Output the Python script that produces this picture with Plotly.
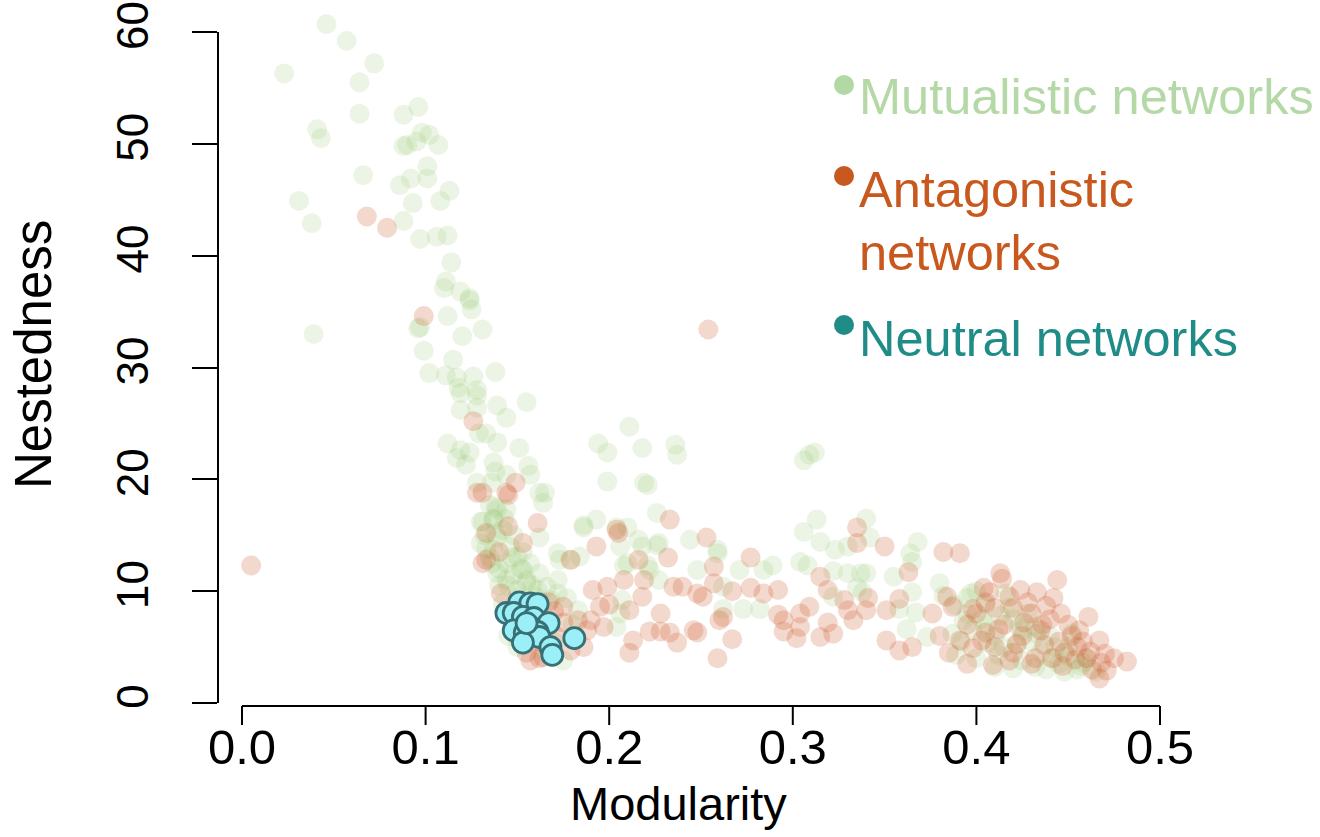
import plotly.graph_objects as go

# ---------------- data (modularity, nestedness) ----------------
mut_mod_upper = [0.046,0.057,0.072,0.023,0.064,0.064,0.088,0.096,0.041,0.043,0.098,0.102,0.088,0.090,0.095,
                 0.107,0.101,0.066,0.086,0.092,0.101,0.113,0.108,0.093,0.031,0.038,0.088,0.097,0.106,0.112,
                 0.114,0.111,0.110,0.119,0.124,0.124,0.125,0.112,0.096,0.097,0.039,0.120,0.131,0.099,0.115]
mut_nest_upper = [60.7,59.2,57.2,56.3,55.5,52.7,52.6,53.3,51.3,50.5,51.0,50.8,49.8,49.9,50.2,
                  49.9,48.0,47.2,46.3,46.9,46.9,45.8,44.9,44.7,44.9,42.9,43.1,41.5,41.7,41.8,
                  39.4,37.7,37.1,36.8,36.2,36.0,35.2,34.6,33.5,33.6,33.0,32.8,33.4,31.5,30.7]

mut_mod_branch = [0.102,0.111,0.117,0.126,0.138,0.118,0.119,0.128,0.128,0.119,0.128,0.139,0.155,0.144,0.129,
                  0.133,0.112,0.139,0.151,0.119,0.124,0.117,0.122,0.137,0.138,0.156,0.157,0.128,0.136,0.144,
                  0.138,0.144,0.137,0.131,0.165,0.164,0.130,0.162,0.172,0.184]
mut_nest_branch = [29.5,29.3,29.1,29.2,29.6,28.2,27.7,28.0,27.5,26.2,26.4,26.6,26.9,25.5,24.1,
                   24.1,23.2,23.3,22.8,22.6,22.4,21.9,21.3,21.5,20.7,21.2,20.4,19.7,19.7,20.4,
                   17.5,17.3,16.5,16.2,18.8,17.9,14.3,14.8,13.4,13.1]

mut_mod_bend = [0.135,0.139,0.137,0.130,0.139,0.146,0.137,0.150,0.144,0.157,0.139,0.153,0.162,0.144,0.155,
                0.166,0.150,0.161,0.172,0.177,0.168,0.142,0.183,0.172,0.173,0.179,0.162,0.132,0.135,0.140,
                0.142,0.147,0.148,0.152,0.155,0.158,0.160,0.163,0.145,0.150,0.140,0.136,0.133,0.138,0.143,
                0.148,0.153,0.145,0.150,0.160,0.165,0.170,0.175,0.180]
mut_nest_bend = [17.7,17.3,16.4,16.2,14.8,14.0,13.7,13.1,12.5,12.5,11.6,11.9,11.6,11.0,10.8,
                 10.4,10.1,10.1,9.8,9.4,9.2,8.9,8.3,11.0,12.8,12.8,18.8,15.0,13.0,12.0,
                 15.5,13.0,11.5,12.0,11.0,10.5,9.5,9.0,10.5,9.5,10.5,12.5,13.8,15.2,16.5,
                 15.0,13.5,6.0,5.0,7.0,4.8,5.5,3.8,7.0]

mut_mod_mid = [0.211,0.194,0.199,0.218,0.236,0.237,0.199,0.219,0.221,0.186,0.193,0.210,0.226,0.206,0.216,
               0.226,0.208,0.221,0.186,0.204,0.218,0.227,0.210,0.222,0.227,0.248,0.244,0.259,0.262,0.207,
               0.204,0.206]
mut_nest_mid = [24.7,23.2,22.4,22.8,23.1,22.2,19.8,19.7,19.5,15.7,16.4,15.7,17.0,14.0,14.6,
                14.1,12.3,12.3,15.9,15.7,14.0,14.3,12.5,11.9,11.0,11.9,14.6,13.7,10.4,9.2,
                6.8,8.0]

mut_mod_right = [0.309,0.312,0.306,0.313,0.340,0.306,0.315,0.323,0.330,0.342,0.368,0.364,0.365,0.304,0.308,
                 0.337,0.340,0.330,0.322,0.355,0.380,0.335,0.338,0.322,0.365,0.358,0.367,0.362,0.373,0.393,
                 0.387,0.389,0.406,0.259,0.271,0.284,0.289,0.262,0.273,0.282,0.397,0.400,0.416]
mut_nest_right = [22.2,22.4,21.7,16.4,16.5,15.3,14.4,13.7,14.0,14.8,14.4,13.4,12.6,12.6,12.3,
                  11.6,11.6,11.6,11.8,11.3,10.7,10.3,9.9,9.5,9.9,8.4,8.1,6.6,5.9,7.4,
                  6.2,4.3,5.4,13.4,11.9,11.9,12.3,8.4,8.4,8.4,9.8,10.0,9.8]

mut_mod_tail = [0.395,0.405,0.410,0.415,0.420,0.425,0.430,0.435,0.440,0.445,0.450,0.455,0.460,0.465,0.400,
                0.410,0.425,0.438,0.448,0.418,0.428,0.398,0.392,0.405,0.412,0.432,0.452,0.442,0.422,0.458,
                0.403,0.413,0.423,0.433,0.443,0.450,0.457,0.432,0.420,0.388,0.395,0.382]
mut_nest_tail = [8.0,7.0,6.0,5.0,7.5,6.5,5.5,4.5,6.0,3.5,5.0,3.0,4.0,2.8,4.0,
                 3.2,3.8,3.0,2.8,8.5,8.0,6.5,5.5,8.8,4.3,6.8,6.2,4.0,5.2,3.6,
                 7.5,7.8,6.8,6.2,5.0,4.2,3.3,3.2,3.1,8.8,9.4,9.6]

ant_mod_left = [0.005,0.068,0.079,0.099,0.254,0.126,0.149,0.131,0.144,0.128,0.145,0.161,0.133,0.153,0.131,
                0.179,0.205,0.233,0.193,0.216,0.232,0.133,0.141,0.175,0.204]
ant_nest_left = [12.3,43.5,42.5,34.6,33.4,25.2,19.7,18.8,18.8,18.8,18.6,16.1,15.2,14.3,12.5,
                 12.8,15.2,16.4,14.0,12.8,13.0,12.8,9.8,8.6,15.5]

ant_mod_mid = [0.219,0.235,0.240,0.253,0.257,0.257,0.248,0.191,0.199,0.208,0.195,0.200,0.211,0.218,0.228,
               0.222,0.228,0.233,0.213,0.237,0.211,0.246,0.248,0.259,0.260,0.190,0.197,0.183,0.188,0.186,
               0.179,0.164,0.157,0.171,0.175]
ant_nest_mid = [11.0,10.4,10.4,14.8,12.2,10.7,9.8,10.1,10.4,11.0,8.6,8.8,8.3,9.5,8.0,
                6.4,6.4,6.3,5.6,5.4,4.5,6.5,6.3,4.0,7.4,7.4,6.8,7.4,6.5,5.0,
                4.7,4.1,3.8,6.0,7.2]

ant_mod_bend = [0.140,0.145,0.150,0.156,0.160,0.165,0.167,0.170,0.150,0.155,0.162]
ant_nest_bend = [13.5,15.8,9.0,8.0,5.5,6.5,9.0,8.2,6.0,4.5,4.0]

ant_mod_right = [0.335,0.335,0.350,0.382,0.391,0.363,0.404,0.407,0.413,0.315,0.319,0.328,0.309,0.304,0.295,
                 0.319,0.304,0.315,0.295,0.302,0.322,0.330,0.333,0.340,0.341,0.351,0.358,0.351,0.358,0.365,
                 0.376,0.384,0.387,0.391,0.398,0.409,0.277,0.267,0.277,0.284,0.292,0.251,0.292,0.262,0.267]
ant_nest_right = [15.7,14.3,14.0,13.5,13.4,11.7,10.3,9.9,11.6,11.3,10.1,9.2,8.6,8.0,7.4,
                  7.2,6.8,5.9,6.4,5.8,6.2,8.3,7.4,8.3,9.4,8.3,9.3,5.6,4.7,5.0,
                  8.0,9.5,8.6,5.6,4.9,3.4,13.0,10.0,10.3,9.8,10.1,9.5,7.9,7.7,5.7]

ant_mod_tail = [0.414,0.424,0.433,0.444,0.442,0.461,0.467,0.482,0.471,0.467,0.420,0.430,0.440,0.450,0.425,
                0.435,0.445,0.455,0.460,0.415,0.405,0.410,0.420,0.432,0.448,0.456,0.463,0.475,0.400,0.410,
                0.395,0.380,0.385,0.395,0.428,0.438,
                0.405,0.418,0.426,0.436,0.446,0.452,0.458,0.441,0.430,0.418,0.412,0.422,0.437,0.447,0.454,
                0.462,0.468,0.470,0.403,0.398]
ant_nest_tail = [11.1,10.1,9.9,11.0,9.4,7.7,5.6,3.7,2.9,2.2,8.5,8.0,7.5,7.0,6.0,
                 6.5,5.5,5.0,4.0,7.0,6.3,5.0,4.5,4.0,4.5,6.5,3.0,4.0,8.0,8.5,
                 7.0,6.0,4.5,3.5,9.0,8.7,
                 9.0,9.5,7.2,7.0,8.0,6.0,5.5,4.0,3.5,3.8,6.6,5.3,5.2,3.3,3.9,
                 4.6,3.6,4.4,5.6,8.4]

neu_mod = [0.144,0.151,0.157,0.161,0.148,0.153,0.159,0.167,0.157,0.148,0.154,0.161,0.162,0.153,0.168,0.169,0.181,0.155]
neu_nest = [8.05,9.0,8.9,8.85,8.05,7.7,7.6,7.15,6.8,6.5,6.3,6.35,5.9,5.4,5.0,4.3,5.8,7.15]

x_ticks = [0.0, 0.1, 0.2, 0.3, 0.4, 0.5]
x_tick_labels = ["0.0", "0.1", "0.2", "0.3", "0.4", "0.5"]
y_ticks = [0, 10, 20, 30, 40, 50, 60]
legend_labels = ["Mutualistic networks", "Antagonistic", "networks", "Neutral networks"]

mut_mod = mut_mod_upper + mut_mod_branch + mut_mod_bend + mut_mod_mid + mut_mod_right + mut_mod_tail
mut_nest = mut_nest_upper + mut_nest_branch + mut_nest_bend + mut_nest_mid + mut_nest_right + mut_nest_tail
ant_mod = ant_mod_left + ant_mod_mid + ant_mod_bend + ant_mod_right + ant_mod_tail
ant_nest = ant_nest_left + ant_nest_mid + ant_nest_bend + ant_nest_right + ant_nest_tail
assert len(mut_mod) == len(mut_nest) and len(ant_mod) == len(ant_nest) and len(neu_mod) == len(neu_nest)

# ---------------- layout geometry ----------------
W, H = 1320, 837
ML, MR, MT, MB = 218, 120, 10, 131
PW, PH = W - ML - MR, H - MT - MB
X_PER_UNIT = 1836.0      # px per modularity unit
Y_PER_UNIT = 11.183      # px per nestedness unit
X0_PX, Y0_PX = 242, 703  # pixel of x=0, y=0
x_range = [(ML - X0_PX) / X_PER_UNIT, (ML + PW - X0_PX) / X_PER_UNIT]
y_range = [(Y0_PX - (MT + PH)) / Y_PER_UNIT, (Y0_PX - MT) / Y_PER_UNIT]
X_TICK_LEN = 19

def px_x(px):
    return (px - ML) / PW

def px_y(py):
    return (MT + PH - py) / PH

FONT = "Liberation Sans, Arial, sans-serif"
GREEN_TXT = "rgb(180,217,166)"
RED_TXT = "rgb(200,88,30)"
TEAL_TXT = "rgb(32,140,135)"

fig = go.Figure()
fig.add_trace(go.Scatter(
    x=mut_mod, y=mut_nest, mode="markers", name="Mutualistic", cliponaxis=False,
    marker=dict(size=20, color="rgb(150,198,110)", opacity=0.18, line=dict(width=0)),
))
fig.add_trace(go.Scatter(
    x=ant_mod, y=ant_nest, mode="markers", name="Antagonistic", cliponaxis=False,
    marker=dict(size=20, color="rgb(205,90,45)", opacity=0.24, line=dict(width=0)),
))
fig.add_trace(go.Scatter(
    x=neu_mod, y=neu_nest, mode="markers", name="Neutral", cliponaxis=False,
    marker=dict(size=21, color="rgb(155,240,248)", line=dict(width=2.8, color="rgb(55,112,118)")),
))

shapes = [
    # detached R-style axis lines
    dict(type="line", xref="paper", yref="y", x0=0, x1=0, y0=0, y1=60,
         line=dict(color="black", width=2)),
    dict(type="line", xref="x", yref="paper", x0=0, x1=0.5, y0=0, y1=0,
         line=dict(color="black", width=2)),
]
# x-axis tick marks at the tick values
for tv in x_ticks:
    shapes.append(dict(type="line", xref="x", yref="paper", x0=tv, x1=tv,
                       y0=0, y1=-X_TICK_LEN / PH, line=dict(color="black", width=2)))
# legend bullets
for cx, cy, col in [(844, 85, "rgb(178,216,164)"), (844, 176, RED_TXT), (844, 325, TEAL_TXT)]:
    r = 10
    shapes.append(dict(type="circle", xref="paper", yref="paper",
                       x0=px_x(cx - r), x1=px_x(cx + r), y0=px_y(cy + r), y1=px_y(cy - r),
                       fillcolor=col, line=dict(width=0)))

annotations = [
    dict(text="Nestedness", x=px_x(33), y=px_y(355), xref="paper", yref="paper",
         xanchor="center", yanchor="middle",
         textangle=-90, showarrow=False, font=dict(size=51, color="black", family=FONT)),
    dict(text="Modularity", x=px_x(678), y=px_y(803), xref="paper", yref="paper",
         xanchor="center", yanchor="middle",
         showarrow=False, font=dict(size=47, color="black", family=FONT)),
]
legend_spec = [(legend_labels[0], 96, GREEN_TXT), (legend_labels[1], 189, RED_TXT),
               (legend_labels[2], 252, RED_TXT), (legend_labels[3], 338, TEAL_TXT)]
for txt, cy, col in legend_spec:
    annotations.append(dict(text=txt, x=px_x(857), y=px_y(cy), xref="paper", yref="paper",
                            xanchor="left", yanchor="middle", showarrow=False,
                            font=dict(size=50.5, color=col, family=FONT)))

fig.update_layout(
    width=W, height=H,
    margin=dict(l=ML, r=MR, t=MT, b=MB, pad=0, autoexpand=False),
    paper_bgcolor="white", plot_bgcolor="white",
    showlegend=False,
    shapes=shapes, annotations=annotations,
    xaxis=dict(range=x_range, showgrid=False, zeroline=False, showline=False, automargin=False,
               tickmode="array", tickvals=x_ticks, ticktext=x_tick_labels,
               ticks="", ticklabelstandoff=8,
               tickfont=dict(size=49, color="black", family=FONT)),
    yaxis=dict(range=y_range, showgrid=False, zeroline=False, showline=False, automargin=False,
               tickmode="array", tickvals=y_ticks,
               ticks="outside", ticklen=25, tickwidth=2, tickcolor="black",
               tickangle=-90, ticklabelstandoff=26,
               tickfont=dict(size=44, color="black", family=FONT)),
)

fig.write_html("out.html")
